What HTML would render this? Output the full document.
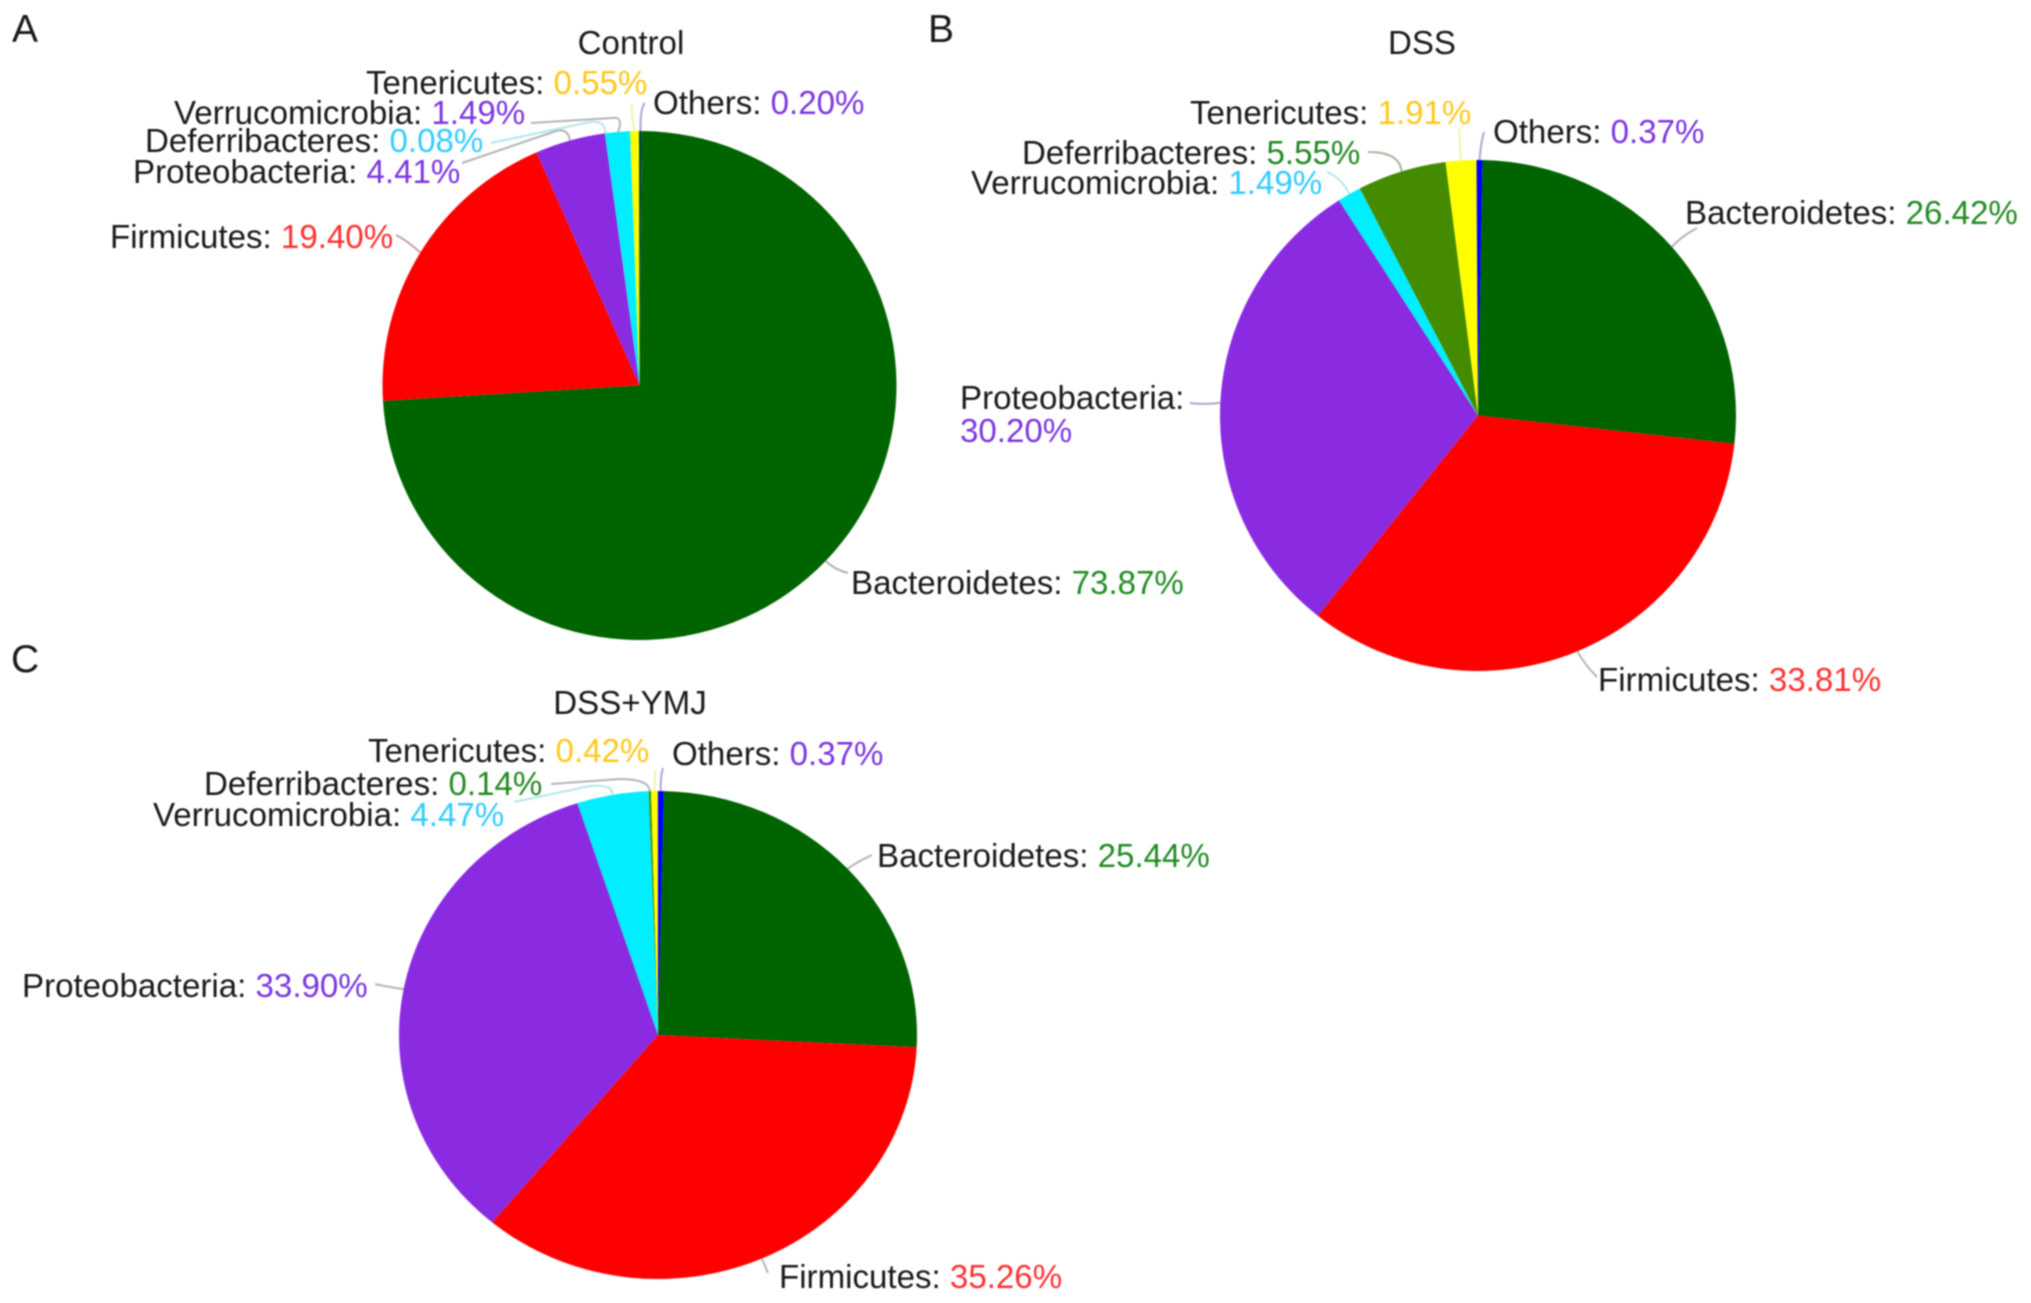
<!DOCTYPE html>
<html lang="en">
<head>
<meta charset="utf-8">
<title>Gut microbiota composition at phylum level</title>
<style>
html,body{margin:0;padding:0;background:#fff;}
body{width:2031px;height:1303px;overflow:hidden;}
svg{display:block;filter:blur(0.7px);font-family:"Liberation Sans",Arial,sans-serif;}
text{font-size:33.1px;fill:#1a1a1a;}
.panel-letter{font-size:39px;}
</style>
</head>
<body>
<svg id="figure" xmlns="http://www.w3.org/2000/svg" width="2031" height="1303" viewBox="0 0 2031 1303">
  <rect width="2031" height="1303" fill="#fff"/>
  <text class="panel-letter" x="12" y="42">A</text>
  <text class="panel-letter" x="928" y="42">B</text>
  <text class="panel-letter" x="11" y="672">C</text>
  <text x="631" y="54" text-anchor="middle">Control</text>
  <text x="1422" y="54" text-anchor="middle">DSS</text>
  <text x="630" y="714" text-anchor="middle">DSS+YMJ</text>
  <g id="pie-control"></g>
  <g id="pie-dss"></g>
  <g id="pie-dss-ymj"></g>
</svg>
<script>
/* ---------- chart data ---------- */
const controlCategories = ['Bacteroidetes', 'Firmicutes', 'Proteobacteria', 'Deferribacteres', 'Verrucomicrobia', 'Tenericutes', 'Others'];
const controlValues = [73.87, 19.40, 4.41, 0.08, 1.49, 0.55, 0.20];

const dssCategories = ['Bacteroidetes', 'Firmicutes', 'Proteobacteria', 'Verrucomicrobia', 'Deferribacteres', 'Tenericutes', 'Others'];
const dssValues = [26.42, 33.81, 30.20, 1.49, 5.55, 1.91, 0.37];

const ymjCategories = ['Bacteroidetes', 'Firmicutes', 'Proteobacteria', 'Verrucomicrobia', 'Deferribacteres', 'Tenericutes', 'Others'];
const ymjValues = [25.44, 35.26, 33.90, 4.47, 0.14, 0.42, 0.37];

/* ---------- styling ---------- */
const GREEN = '#006400', RED = '#ff0000', PURPLE = '#8a2be2', OLIVE = '#458b00', CYAN = '#00eeff', YELLOW = '#ffff00', BLUE = '#0000ff';
const T_GREEN = '#228b22', T_RED = '#ff3030', T_PURPLE = '#7b35e0', T_CYAN = '#33ccff', T_GOLD = '#ffc81e';
const L_GREY = '#b4b4b4', L_RED = '#c9a0a0', L_PURPLE = '#a9a6cf', L_CYAN = '#b5e6ea', L_YELLOW = '#f2f2a8', L_OLIVE = '#a8b49a';

const controlSliceColors = [GREEN, RED, PURPLE, CYAN, CYAN, YELLOW, '#004a30'];
const controlTextColors = [T_GREEN, T_RED, T_PURPLE, T_CYAN, T_PURPLE, T_GOLD, T_PURPLE];
const controlLeaderColors = [L_GREY, L_RED, L_GREY, L_CYAN, L_GREY, L_YELLOW, L_PURPLE];
const dssSliceColors = [GREEN, RED, PURPLE, CYAN, OLIVE, YELLOW, BLUE];
const dssTextColors = [T_GREEN, T_RED, T_PURPLE, T_CYAN, T_GREEN, T_GOLD, T_PURPLE];
const dssLeaderColors = [L_GREY, L_GREY, L_PURPLE, L_CYAN, L_OLIVE, L_YELLOW, L_PURPLE];
const ymjSliceColors = [GREEN, RED, PURPLE, CYAN, OLIVE, YELLOW, BLUE];
const ymjTextColors = [T_GREEN, T_RED, T_PURPLE, T_CYAN, T_GREEN, T_GOLD, T_PURPLE];
const ymjLeaderColors = [L_GREY, L_GREY, L_GREY, L_CYAN, L_GREY, L_YELLOW, L_PURPLE];

/* ---------- label layout: text anchor, then leader elbow / optional mid / end ---------- */
const controlLayout = [
  {x: 851, y: 594, elbow: [835, 570], end: [848, 573]},
  {x: 110, y: 248, elbow: [408, 241], end: [396, 235]},
  {x: 133, y: 183, elbow: [568, 128], mid: [556, 131], end: [462, 163]},
  {x: 145, y: 152, elbow: [605, 120], mid: [590, 122], end: [491, 143]},
  {x: 174, y: 124, elbow: [624, 116], mid: [612, 118], end: [531, 123]},
  {x: 366, y: 94, elbow: [631, 115], end: [632, 103]},
  {x: 653, y: 114, elbow: [640, 108], end: [645, 103]}
];
const dssLayout = [
  {x: 1685, y: 224, elbow: [1682, 236], end: [1697, 228]},
  {x: 1598, y: 691, elbow: [1585, 665], end: [1597, 677]},
  {x: 960, y: 409, valueX: 960, valueY: 442, elbow: [1205, 405], end: [1190, 403]},
  {x: 971, y: 194, elbow: [1342, 178], end: [1327, 172]},
  {x: 1022, y: 164, elbow: [1400, 152], end: [1368, 152]},
  {x: 1190, y: 124, elbow: [1460, 145], end: [1459, 128]},
  {x: 1493, y: 143, elbow: [1481, 142], end: [1484, 132]}
];
const ymjLayout = [
  {x: 877, y: 867, elbow: [855, 863], end: [872, 855]},
  {x: 779, y: 1288, elbow: [765, 1266], end: [768, 1273]},
  {x: 22, y: 997, elbow: [388, 987], end: [375, 984]},
  {x: 153, y: 826, elbow: [613, 784], mid: [590, 786], end: [514, 802]},
  {x: 204, y: 795, elbow: [649, 779], mid: [620, 779], end: [551, 784]},
  {x: 368, y: 762, elbow: [655, 785], end: [655, 770]},
  {x: 672, y: 765, elbow: [660, 778], end: [663, 768]}
];

const SVG_NS = 'http://www.w3.org/2000/svg';

function make(parent, tag, attrs) {
  const node = document.createElementNS(SVG_NS, tag);
  Object.keys(attrs).forEach(function (key) { node.setAttribute(key, attrs[key]); });
  parent.appendChild(node);
  return node;
}

function slug(name) { return name.toLowerCase(); }

/* axis function: value share -> angle in radians, clockwise from 12 o'clock */
function angleScale(values, rotationDeg) {
  const total = values.reduce(function (a, b) { return a + b; }, 0);
  return function (cumulative) {
    return (rotationDeg + (cumulative / total) * 360) * Math.PI / 180;
  };
}

function drawPie(groupId, prefix, geom, categories, values, sliceColors, textColors, leaderColors, layout) {
  const group = document.getElementById(groupId);
  const angle = angleScale(values, geom.rotation);
  const point = function (a) {
    return [geom.cx + geom.rx * Math.sin(a), geom.cy - geom.ry * Math.cos(a)];
  };
  let cumulative = 0;
  values.forEach(function (value, i) {
    const a0 = angle(cumulative);
    const a1 = angle(cumulative + value);
    const p0 = point(a0);
    const p1 = point(a1);
    const large = (a1 - a0) > Math.PI ? 1 : 0;
    const d = 'M' + geom.cx + ' ' + geom.cy + 'L' + p0[0] + ' ' + p0[1] +
      'A' + geom.rx + ' ' + geom.ry + ' 0 ' + large + ' 1 ' + p1[0] + ' ' + p1[1] + 'Z';
    const slice = make(group, 'path', {d: d, fill: sliceColors[i]});
    
    
    cumulative += value;
  });

  cumulative = 0;
  values.forEach(function (value, i) {
    const mid = angle(cumulative + value / 2);
    const start = point(mid);
    const spec = layout[i];
    let d = 'M' + start[0] + ' ' + start[1] + 'Q' + spec.elbow[0] + ' ' + spec.elbow[1] + ' ';
    if (spec.mid) {
      d += spec.mid[0] + ' ' + spec.mid[1] + 'L' + spec.end[0] + ' ' + spec.end[1];
    } else {
      d += spec.end[0] + ' ' + spec.end[1];
    }
    const leader = make(group, 'path', {d: d, fill: 'none', stroke: leaderColors[i], 'stroke-width': 2});
    
    

    const label = make(group, 'text', {x: spec.x, y: spec.y});
    
    
    const nameSpan = make(label, 'tspan', {});
    nameSpan.textContent = categories[i] + ': ';
    const valueSpan = make(label, 'tspan', {fill: textColors[i]});
    if (spec.valueX !== undefined) {
      valueSpan.setAttribute('x', spec.valueX);
      valueSpan.setAttribute('y', spec.valueY);
    }
    valueSpan.textContent = value.toFixed(2) + '%';
    cumulative += value;
  });
}

drawPie('pie-control', 'control', {cx: 639.5, cy: 385.5, rx: 257, ry: 254.5, rotation: 0.6},
  controlCategories, controlValues, controlSliceColors, controlTextColors, controlLeaderColors, controlLayout);
drawPie('pie-dss', 'dss', {cx: 1478, cy: 415.5, rx: 258, ry: 255.5, rotation: 1},
  dssCategories, dssValues, dssSliceColors, dssTextColors, dssLeaderColors, dssLayout);
drawPie('pie-dss-ymj', 'dss-ymj', {cx: 658, cy: 1035, rx: 259, ry: 244, rotation: 1.3},
  ymjCategories, ymjValues, ymjSliceColors, ymjTextColors, ymjLeaderColors, ymjLayout);
</script>
</body>
</html>
